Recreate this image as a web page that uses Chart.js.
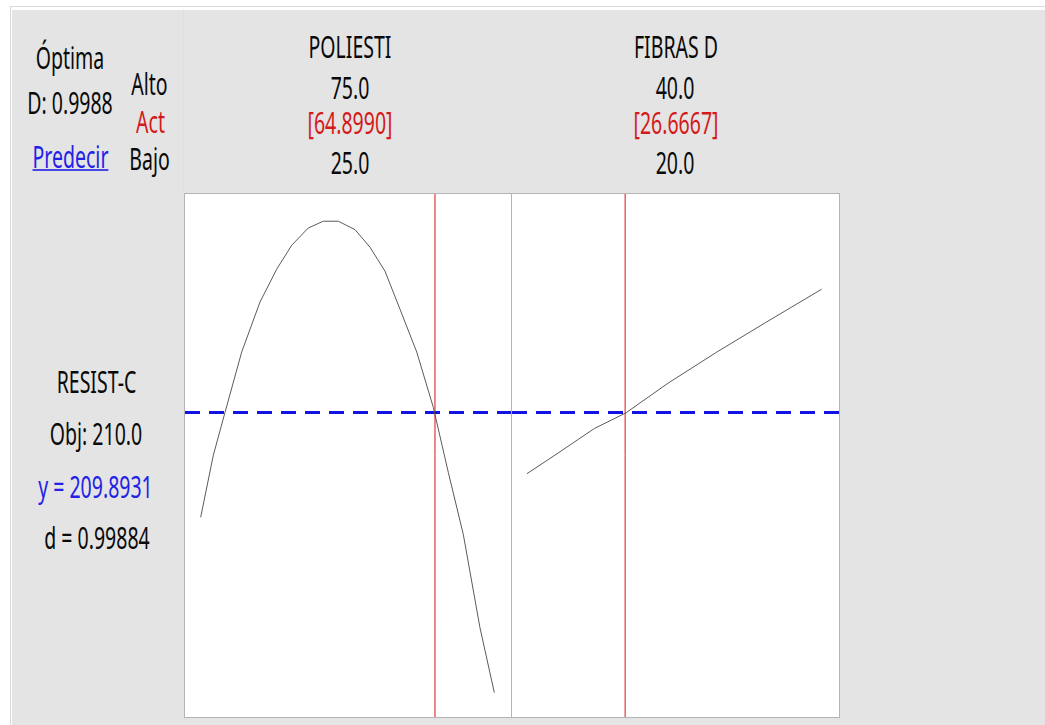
<!DOCTYPE html>
<html>
<head>
<meta charset="utf-8">
<script src="https://cdn.jsdelivr.net/npm/chart.js@4.4.1/dist/chart.umd.min.js"></script>
<style>
  body { margin: 0; background: #fff; width: 1045px; height: 725px; overflow: hidden; position: relative; }
  .t {
    position: absolute;
    transform: translate(-50%, -50%) scaleY(1.6);
    font: 19.5px "Noto Sans", sans-serif;
    line-height: 1;
    white-space: nowrap;
    color: #0a0a0a;
  }
  .red { color: #d41a1a; }
  .blue { color: #2222e6; }
</style>
</head>
<body>
<div style="position:absolute;left:10px;top:6px;width:1040px;height:730px;border-top:1px solid #dadada;border-left:1px solid #dadada;"></div>
<div style="position:absolute;left:12px;top:10px;width:1033px;height:715px;background:#e4e4e4;"></div>
<div style="position:absolute;left:183px;top:10px;width:1px;height:183px;background:#dfdfdf;"></div>

<div class="t" style="left:70px;top:57px;">Óptima</div>
<div class="t" style="left:70px;top:102px;">D: 0.9988</div>
<div class="t blue" style="left:70.5px;top:156px;text-decoration:underline;">Predecir</div>
<div class="t" style="left:149.5px;top:82.5px;">Alto</div>
<div class="t red" style="left:150.5px;top:121px;">Act</div>
<div class="t" style="left:149.5px;top:157.5px;">Bajo</div>

<div class="t" style="left:350px;top:46px;">POLIESTI</div>
<div class="t" style="left:350px;top:86.7px;">75.0</div>
<div class="t red" style="left:350px;top:122px;">[64.8990]</div>
<div class="t" style="left:350px;top:162px;">25.0</div>

<div class="t" style="left:676px;top:46px;">FIBRAS D</div>
<div class="t" style="left:675px;top:86.7px;">40.0</div>
<div class="t red" style="left:676px;top:122px;">[26.6667]</div>
<div class="t" style="left:675px;top:162px;">20.0</div>

<div class="t" style="left:96.5px;top:381px;">RESIST-C</div>
<div class="t" style="left:96px;top:433px;">Obj: 210.0</div>
<div class="t blue" style="left:95.5px;top:486px;">y = 209.8931</div>
<div class="t" style="left:97px;top:537px;">d = 0.99884</div>

<div style="position:absolute;left:184px;top:193px;width:656px;height:525px;box-sizing:border-box;border:1px solid #b4b4b4;background:#fff;">
  <div style="position:absolute;left:0;top:0;width:326px;height:523px;">
    <canvas id="chartPoliesti"></canvas>
  </div>
  <div style="position:absolute;left:326px;top:0;width:328px;height:523px;box-sizing:border-box;border-left:1px solid #b4b4b4;">
    <canvas id="chartFibras"></canvas>
  </div>
</div>

<script>
// factor settings (x) and predicted response (y)
const poliestiX = [25, 27.15, 29.14, 31.98, 35.1, 37.94, 40.5, 43.32, 45.88, 48.43, 51.28, 53.83, 56.39, 58.94, 61.79, 64.61, 67.17, 69.72, 72.56, 75];
const poliestiY = [183.8, 199.3, 210.0, 225.1, 237.6, 245.8, 251.8, 256.1, 257.8, 257.8, 255.7, 251.3, 245.3, 235.8, 225.1, 211.3, 195.0, 179.5, 156.2, 140.0];

const fibrasX = [20, 21.97, 24.58, 26.72, 29.57, 32.89, 36.21, 40];
const fibrasY = [194.7, 199.5, 206.0, 209.9, 217.3, 225.1, 232.5, 240.8];

// current settings and objective
const currentSettings = [64.899, 26.6667];
const objective = 210.0;

// axis limits
const poliestiRange = [22.33, 77.84];
const fibrasRange = [18.99, 41.18];
const responseRange = [133.9, 264.6];

function toPoints(xs, ys) {
  return xs.map((x, i) => ({ x: x, y: ys[i] }));
}

function makePanel(canvasId, xs, ys, xRange, current) {
  const ctx = document.getElementById(canvasId).getContext("2d");
  return new Chart(ctx, {
    type: "scatter",
    data: {
      datasets: [
        {
          data: toPoints(xs, ys),
          showLine: true,
          borderColor: "#5a5a5a",
          borderWidth: 1,
          pointRadius: 0,
          tension: 0,
        },
        {
          data: [
            { x: xRange[0], y: objective },
            { x: xRange[1], y: objective },
          ],
          showLine: true,
          borderColor: "#1212e2",
          borderWidth: 3,
          borderDash: [15, 9],
          pointRadius: 0,
        },
        {
          data: [
            { x: current, y: responseRange[0] },
            { x: current, y: responseRange[1] },
          ],
          showLine: true,
          borderColor: "#e01010",
          borderWidth: 1,
          pointRadius: 0,
        },
      ],
    },
    options: {
      responsive: true,
      maintainAspectRatio: false,
      animation: false,
      events: [],
      layout: { padding: 0 },
      plugins: {
        legend: { display: false },
        tooltip: { enabled: false },
      },
      scales: {
        x: { type: "linear", display: false, min: xRange[0], max: xRange[1] },
        y: { type: "linear", display: false, min: responseRange[0], max: responseRange[1] },
      },
    },
  });
}

makePanel("chartPoliesti", poliestiX, poliestiY, poliestiRange, currentSettings[0]);
makePanel("chartFibras", fibrasX, fibrasY, fibrasRange, currentSettings[1]);
</script>
</body>
</html>
